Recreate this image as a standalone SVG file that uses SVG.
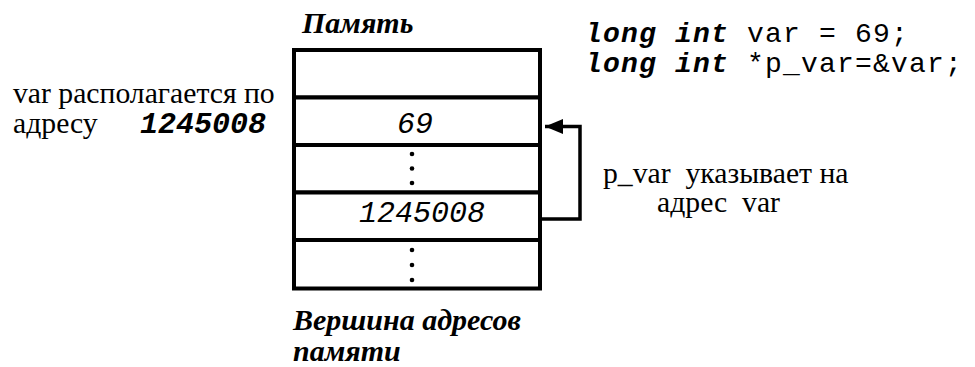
<svg xmlns="http://www.w3.org/2000/svg" width="975" height="367" viewBox="0 0 975 367">
<style>
.cell{fill:#fff;stroke:#000;stroke-width:4}
.mono{font-family:"Liberation Mono","Courier New",monospace;font-size:30px;fill:#000}
.code{font-size:28px;letter-spacing:1.2px}
.bi{font-weight:bold;font-style:italic}
.it{font-style:italic}
.serif{font-family:"Liberation Serif","Times New Roman",serif;font-size:29.7px;fill:#000}
.title{font-family:"Liberation Serif","Times New Roman",serif;font-size:30px;font-weight:bold;font-style:italic;fill:#000}
.dot{fill:#000}
.conn{fill:none;stroke:#000;stroke-width:3.5}
</style>
<defs>
<marker id="ah" viewBox="0 0 18 15" refX="18" refY="7.5" markerWidth="18" markerHeight="15" markerUnits="userSpaceOnUse" orient="auto">
<path d="M0,0 L18,7.5 L0,15 Z" fill="#000"/>
</marker>
</defs>
<rect width="975" height="367" fill="#fff"/>
<text class="title" x="302" y="33">Память</text>
<g id="cell1"><rect class="cell" x="294" y="50" width="246" height="47.5"/></g>
<g id="cell2"><rect class="cell" x="294" y="97.5" width="246" height="47.5"/>
<text class="mono it" x="415" y="133" text-anchor="middle">69</text></g>
<g id="cell3"><rect class="cell" x="294" y="145" width="246" height="47.5"/>
<circle class="dot" cx="412" cy="154" r="2.3"/><circle class="dot" cx="412" cy="168.5" r="2.3"/><circle class="dot" cx="412" cy="183" r="2.3"/></g>
<g id="cell4"><rect class="cell" x="294" y="192.5" width="246" height="47.5"/>
<text class="mono it" x="422" y="222" text-anchor="middle">1245008</text></g>
<g id="cell5"><rect class="cell" x="294" y="240" width="246" height="48.5"/>
<circle class="dot" cx="412" cy="250" r="2.3"/><circle class="dot" cx="412" cy="265" r="2.3"/><circle class="dot" cx="412" cy="280" r="2.3"/></g>
<g id="connectors">
<path class="conn" d="M540,219 H580 V126.5 H545" marker-end="url(#ah)"/>
</g>
<g id="code">
<text class="mono code" x="585" y="42"><tspan class="bi">long int</tspan> var = 69;</text>
<text class="mono code" x="585" y="72"><tspan class="bi">long int</tspan> *p_var=&amp;var;</text>
</g>
<g id="label-left">
<text class="serif" x="13" y="103">var располагается по</text>
<text class="serif" x="13" y="133">адресу</text>
<text class="mono bi" x="140" y="133">1245008</text>
</g>
<g id="label-right">
<text class="serif" x="603" y="183" font-size="29.4" xml:space="preserve">p_var  указывает на</text>
<text class="serif" x="657" y="212" font-size="29.4" xml:space="preserve">адрес  var</text>
</g>
<g id="label-bottom">
<text class="title" x="293" y="330">Вершина адресов</text>
<text class="title" x="293" y="361">памяти</text>
</g>
</svg>
